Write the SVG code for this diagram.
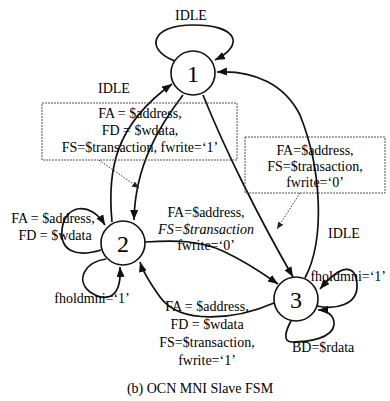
<svg xmlns="http://www.w3.org/2000/svg" width="390" height="401" viewBox="0 0 390 401">
<style>
text{font-family:"Liberation Serif","Times New Roman",serif;font-size:14px;fill:#000}
.m{text-anchor:middle}
.num{font-size:24px;text-anchor:middle}
.edge{fill:none;stroke:#111;stroke-width:1.7}
.dot{fill:none;stroke:#333;stroke-width:1;stroke-dasharray:1.5,1.5}
.box{fill:none;stroke:#555;stroke-width:1;stroke-dasharray:2,1}
.st{fill:#fff;stroke:#111;stroke-width:1.6}
</style>
<defs>
<marker id="ah" markerUnits="userSpaceOnUse" markerWidth="11" markerHeight="9" refX="10" refY="4" orient="auto">
<path d="M0,0 L10,4 L0,8 z" fill="#111"/>
</marker>
<marker id="ahs" markerUnits="userSpaceOnUse" markerWidth="8" markerHeight="7" refX="7" refY="3" orient="auto">
<path d="M0,0 L7,3 L0,6 z" fill="#222"/>
</marker>
</defs>
<rect width="390" height="401" fill="#fff"/>
<g id="connectors">
<path class="edge" d="M175,61 C145,50 150,25 193,25 C238,25 245,45 215,60" marker-end="url(#ah)"/>
<path class="edge" d="M112,222 C107,170 115,125 172,84" marker-end="url(#ah)"/>
<path class="edge" d="M183,95 C160,125 135,165 134,220" marker-end="url(#ah)"/>
<path class="edge" d="M203,95 C225,150 260,220 293,277" marker-end="url(#ah)"/>
<path class="edge" d="M305,278 C325,240 322,170 300,115 C285,85 255,70 217,72" marker-end="url(#ah)"/>
<path class="edge" d="M145,242 C175,240 200,240 225,252 C250,264 265,275 278,284" marker-end="url(#ah)"/>
<path class="edge" d="M274,303 C235,320 180,325 160,297 C150,283 143,272 140,262" marker-end="url(#ah)"/>
<path class="edge" d="M101,250 C75,258 60,250 62,230 C64,205 90,200 105,225" marker-end="url(#ah)"/>
<path class="edge" d="M106,259 C85,262 75,280 90,292 C105,302 122,300 120,267" marker-end="url(#ah)"/>
<path class="edge" d="M317,306 C335,310 358,305 357,285 C356,262 340,265 320,289" marker-end="url(#ah)"/>
<path class="edge" d="M291,321 C286,330 282,342 292,342 C310,342 332,338 334,325 C335,315 326,310 318,310" marker-end="url(#ah)"/>
<path class="dot" d="M99,160 L139,188" marker-end="url(#ahs)"/>
<path class="dot" d="M300,193 L277,229" marker-end="url(#ahs)"/>
</g>
<g id="box1">
<rect class="box" x="42" y="103" width="195" height="57"/>
<text class="m" x="140" y="118">FA = $address,</text>
<text class="m" x="140" y="135">FD = $wdata,</text>
<text class="m" x="140" y="152">FS=$transaction, fwrite=‘1’</text>
</g>
<g id="box2">
<rect class="box" x="245" y="137" width="140" height="56"/>
<text class="m" x="315" y="155">FA=$address,</text>
<text class="m" x="315" y="171">FS=$transaction,</text>
<text class="m" x="315" y="187">fwrite=‘0’</text>
</g>
<g id="state1">
<circle class="st" cx="193" cy="73" r="22"/>
<text class="num" x="193" y="82">1</text>
</g>
<g id="state2">
<circle class="st" cx="123" cy="243" r="22"/>
<text class="num" x="123" y="252">2</text>
</g>
<g id="state3">
<circle class="st" cx="296" cy="299" r="22"/>
<text class="num" x="296" y="308">3</text>
</g>
<g id="labels">
<text class="m" x="191" y="20">IDLE</text>
<text class="m" x="114" y="93">IDLE</text>
<text class="m" x="344" y="238">IDLE</text>
<text class="m" x="53" y="223">FA = $address,</text>
<text class="m" x="55" y="240">FD = $wdata</text>
<text class="m" x="92" y="303">fholdmni=‘1’</text>
<text class="m" x="206" y="217">FA=$address,</text>
<text class="m" x="206" y="234" font-style="italic">FS=$transaction</text>
<text class="m" x="206" y="250">fwrite=‘0’</text>
<text class="m" x="207" y="311">FA = $address,</text>
<text class="m" x="207" y="329">FD = $wdata</text>
<text class="m" x="207" y="347">FS=$transaction,</text>
<text class="m" x="207" y="365">fwrite=‘1’</text>
<text x="386" y="281" font-size="13" text-anchor="end">fholdmni=‘1’</text>
<text x="292" y="352">BD=$rdata</text>
<text class="m" x="200" y="393" font-size="15">(b) OCN MNI Slave FSM</text>
</g>
</svg>
